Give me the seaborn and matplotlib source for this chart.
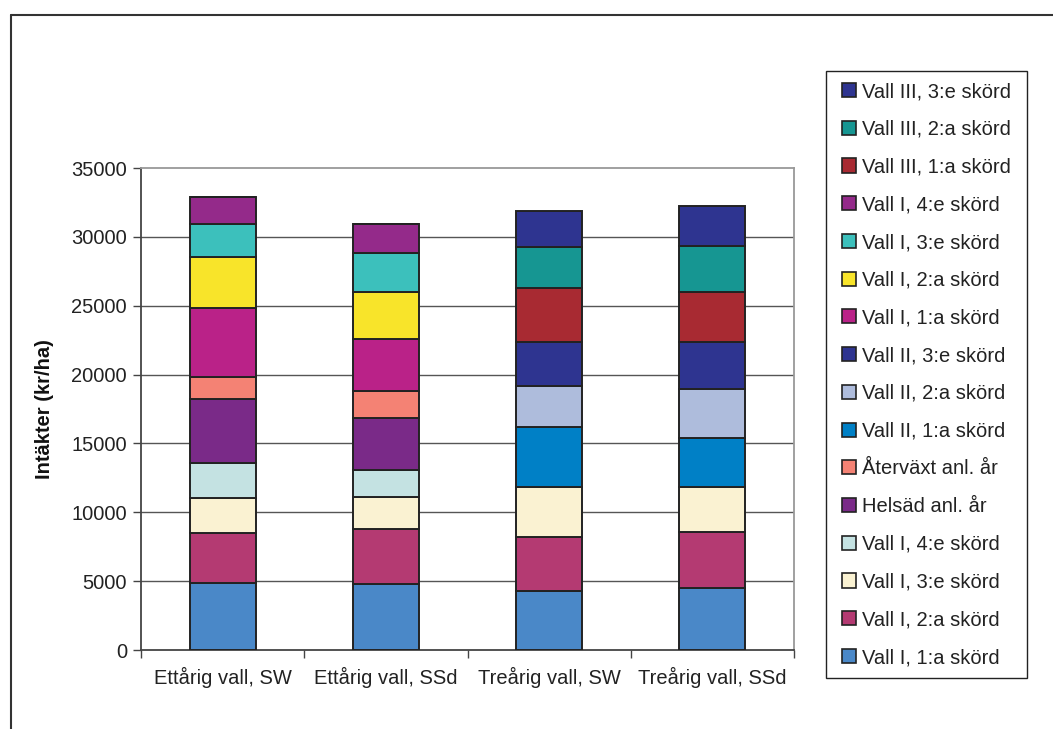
import numpy as np
import pandas as pd
import matplotlib
matplotlib.use("Agg")
import matplotlib.pyplot as plt
from matplotlib.patches import Patch, Rectangle
from matplotlib.lines import Line2D
import seaborn as sns

categories = ["Ettårig vall, SW", "Ettårig vall, SSd", "Treårig vall, SW", "Treårig vall, SSd"]

# series, bottom to top
series_labels = [
    "Vall I, 1:a skörd", "Vall I, 2:a skörd", "Vall I, 3:e skörd", "Vall I, 4:e skörd",
    "Helsäd anl. år", "Återväxt anl. år",
    "Vall II, 1:a skörd", "Vall II, 2:a skörd", "Vall II, 3:e skörd",
    "Vall I, 1:a skörd", "Vall I, 2:a skörd", "Vall I, 3:e skörd", "Vall I, 4:e skörd",
    "Vall III, 1:a skörd", "Vall III, 2:a skörd", "Vall III, 3:e skörd",
]
series_colors = [
    "#4a88c8", "#b43a72", "#faf2d2", "#c4e2e2",
    "#7a2a88", "#f48274",
    "#0080c6", "#aebcdc", "#2e3490",
    "#ba2288", "#f8e42a", "#3cc0bc", "#942a8a",
    "#a82a32", "#169692", "#2e3490",
]

vall1_1a = [4890, 4790, 4285, 4480]
vall1_2a = [3590, 3995, 3945, 4110]
vall1_3e = [2540, 2345, 3630, 3270]
vall1_4e = [2590, 1940, 0, 0]
helsad = [4600, 3755, 0, 0]
aterv = [1600, 2005, 0, 0]
vall2_1a = [0, 0, 4360, 3515]
vall2_2a = [0, 0, 2975, 3560]
vall2_3e = [0, 0, 3195, 3455]
vall1b_1a = [5010, 3730, 0, 0]
vall1b_2a = [3750, 3460, 0, 0]
vall1b_3e = [2350, 2830, 0, 0]
vall1b_4e = [2005, 2060, 0, 0]
vall3_1a = [0, 0, 3920, 3590]
vall3_2a = [0, 0, 2970, 3360]
vall3_3e = [0, 0, 2615, 2905]

series_values = [
    vall1_1a, vall1_2a, vall1_3e, vall1_4e, helsad, aterv,
    vall2_1a, vall2_2a, vall2_3e,
    vall1b_1a, vall1b_2a, vall1b_3e, vall1b_4e,
    vall3_1a, vall3_2a, vall3_3e,
]

yticks = [0, 5000, 10000, 15000, 20000, 25000, 30000, 35000]

sns.set_theme(style="white")
plt.rcParams["font.family"] = ["Liberation Sans", "DejaVu Sans"]

W, H = 1053, 729
fig = plt.figure(figsize=(W / 100, H / 100), dpi=100)
fig.patch.set_facecolor("white")

L, R, T, B = 141, 794, 168, 650
ax = fig.add_axes([L / W, 1 - B / H, (R - L) / W, (B - T) / H])

bottom = np.zeros(len(categories))
for lab, col, vals in zip(series_labels, series_colors, series_values):
    df = pd.DataFrame({"cat": categories, "val": vals})
    sns.barplot(data=df, x="cat", y="val", order=categories, color=col,
                width=0.405, bottom=bottom.copy(), edgecolor="#222222",
                linewidth=1.4, saturation=1, errorbar=None, ax=ax, zorder=3)
    bottom += np.array(vals, dtype=float)

ax.set_xlim(-0.5, 3.5)
ax.set_ylim(0, 35000)
ax.set_yticks(yticks)
ax.set_yticklabels([str(v) for v in yticks], fontsize=14.5, color="#222222")
ax.set_xticks(range(len(categories)))
ax.set_xticklabels(categories, fontsize=14.5, color="#222222")
ax.set_xticks(np.arange(-0.5, 4.0, 1.0), minor=True)
ax.tick_params(axis="x", which="major", length=0, pad=12)
ax.tick_params(axis="x", which="minor", length=6, width=1, color="#444444", direction="out", bottom=True)
ax.tick_params(axis="y", which="major", length=6, width=1, color="#444444", direction="out", left=True, pad=4)
ax.set_xlabel("")
ax.set_ylabel("Intäkter (kr/ha)", fontsize=14.5, fontweight="bold", color="#111111")
ax.yaxis.set_label_coords((54 - L) / (R - L), 0.5)

for y in yticks[1:-1]:
    ax.axhline(y, color="#555555", linewidth=1.0, zorder=1)

ax.spines["left"].set_color("#444444")
ax.spines["bottom"].set_color("#444444")
ax.spines["top"].set_color("#999999")
ax.spines["right"].set_color("#999999")
for s in ax.spines.values():
    s.set_linewidth(1.3)
    s.set_visible(True)

handles = [Patch(facecolor=c, edgecolor="#222222", linewidth=1.2) for c in series_colors][::-1]
labels = series_labels[::-1]
leg = fig.legend(handles, labels, loc="upper left",
                 bbox_to_anchor=(826 / W, 1 - 66 / H),
                 fontsize=14.5, frameon=False,
                 handlelength=0.7, handleheight=0.7, handletextpad=0.3,
                 labelspacing=0.93, borderpad=0.8, borderaxespad=0)
for t in leg.get_texts():
    t.set_color("#222222")

# legend frame
fig.add_artist(Rectangle((826 / W, 1 - 678 / H), (1027 - 826) / W, (678 - 71) / H,
                         transform=fig.transFigure, facecolor="none",
                         edgecolor="#222222", linewidth=1.0))

# outer frame
fig.add_artist(Line2D([11 / W, 1.01], [1 - 15 / H, 1 - 15 / H], transform=fig.transFigure,
                      color="#333333", linewidth=1.5))
fig.add_artist(Line2D([11 / W, 11 / W], [1 - 15 / H, -0.01], transform=fig.transFigure,
                      color="#333333", linewidth=1.5))

fig.savefig("out.png", dpi=100, facecolor="white")
